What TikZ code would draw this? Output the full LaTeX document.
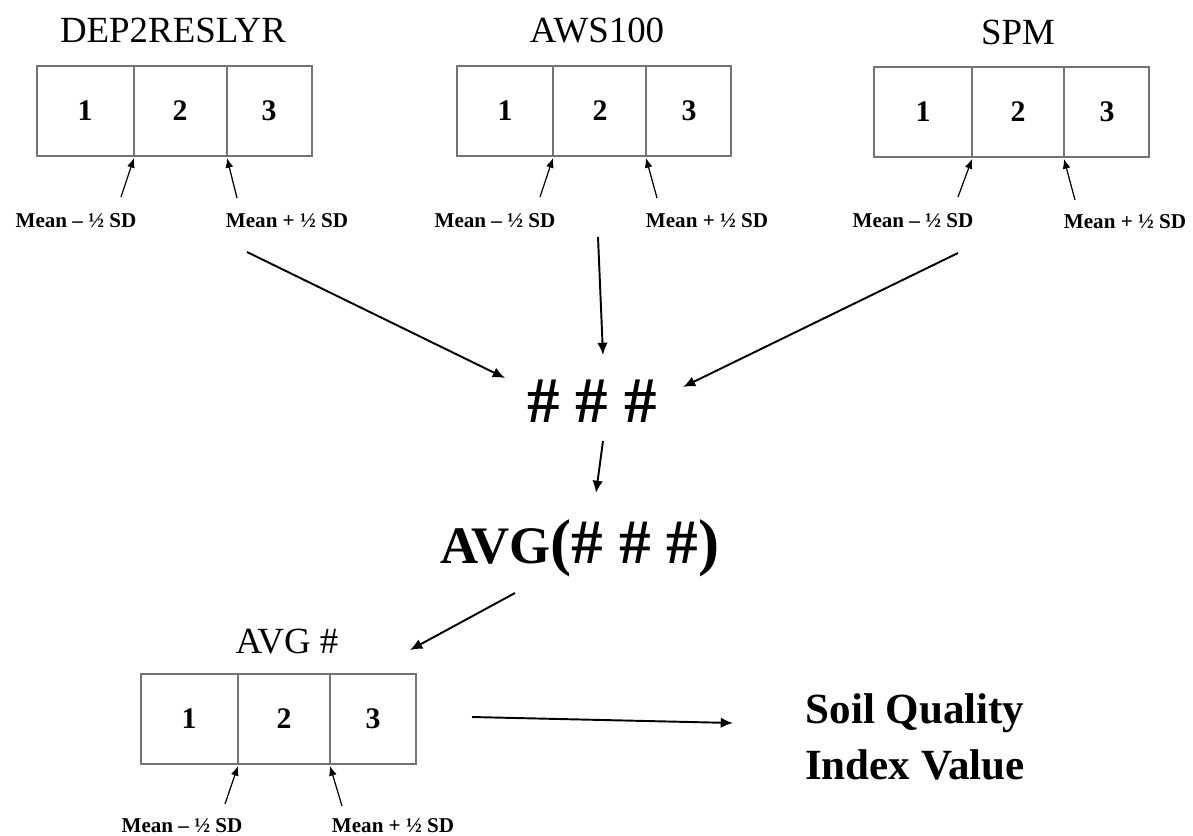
\documentclass[tikz,border=0pt]{standalone}
\usepackage{fontspec}
\setmainfont{Liberation Serif}
\usetikzlibrary{arrows.meta}

\tikzset{
	cellbox/.style={draw=black!55,line width=0.8pt},
	cellnum/.style={font=\fontsize{17}{20}\selectfont\bfseries,inner sep=0pt},
	vartitle/.style={font=\fontsize{21}{25}\selectfont,anchor=base,inner sep=0pt},
	sdlab/.style={font=\fontsize{12}{14}\selectfont\bfseries,anchor=base,inner sep=0pt},
	sdarrow/.style={line width=0.7pt,-{Latex[length=5.5pt,width=4.5pt]}},
	flow/.style={line width=1.1pt,-{Latex[length=7pt,width=6pt]}},
}

\begin{document}
\begin{tikzpicture}[x=0.02cm,y=-0.02cm]
	\useasboundingbox (0,0) rectangle (1193,835);

	% DEP2RESLYR
	\node[vartitle] (tdep) at (173,42) {DEP2RESLYR};
	\draw[cellbox] (37,66) rectangle (312,156) (134,66) -- (134,156) (227,66) -- (227,156);
		\node[cellnum] (dep1) at (85,111) {1};
		\node[cellnum] (dep2) at (180,111) {2};
		\node[cellnum] (dep3) at (269,111) {3};
	\coordinate (depa) at (134,158);
	\coordinate (depb) at (227,158);
	\coordinate (depat) at (121,197);
	\coordinate (depbt) at (237,198);
		\draw[sdarrow] (depat) -- (depa);
		\draw[sdarrow] (depbt) -- (depb);
	\node[sdlab] (deplo) at (76,227) {Mean -- ½ SD};
	\node[sdlab] (dephi) at (287,227) {Mean + ½ SD};

	% AWS100
	\node[vartitle] (taws) at (597,42) {AWS100};
	\draw[cellbox] (457,66) rectangle (731,156) (553,66) -- (553,156) (646,66) -- (646,156);
		\node[cellnum] (aws1) at (505,111) {1};
		\node[cellnum] (aws2) at (600,111) {2};
		\node[cellnum] (aws3) at (689,111) {3};
	\coordinate (awsa) at (553,158);
	\coordinate (awsb) at (646,158);
	\coordinate (awsat) at (540,197);
	\coordinate (awsbt) at (657,198);
		\draw[sdarrow] (awsat) -- (awsa);
		\draw[sdarrow] (awsbt) -- (awsb);
	\node[sdlab] (awslo) at (495,227) {Mean -- ½ SD};
	\node[sdlab] (awshi) at (707,227) {Mean + ½ SD};

	% SPM
	\node[vartitle] (tspm) at (1018,44) {SPM};
	\draw[cellbox] (874,67) rectangle (1149,157) (972,67) -- (972,157) (1064,67) -- (1064,157);
		\node[cellnum] (spm1) at (923,112) {1};
		\node[cellnum] (spm2) at (1018,112) {2};
		\node[cellnum] (spm3) at (1107,112) {3};
	\coordinate (spma) at (972,159);
	\coordinate (spmb) at (1064,159);
	\coordinate (spmat) at (958,197);
	\coordinate (spmbt) at (1075,200);
		\draw[sdarrow] (spmat) -- (spma);
		\draw[sdarrow] (spmbt) -- (spmb);
	\node[sdlab] (spmlo) at (913,227) {Mean -- ½ SD};
	\node[sdlab] (spmhi) at (1125,228) {Mean + ½ SD};

	% combining
	\node[font=\fontsize{37}{44}\selectfont\bfseries,anchor=base,inner sep=0pt] (hash) at (592,422) {\# \# \#};
	\node[font=\bfseries,anchor=base,inner sep=0pt] (avg) at (580,563)
		{{\fontsize{30}{36}\selectfont AVG}{\fontsize{36}{42}\selectfont(\# \# \#)}};
	\coordinate (fdep) at (247,252);
	\coordinate (fdept) at (505,378);
	\coordinate (faws) at (598,237);
	\coordinate (fawst) at (603,355);
	\coordinate (fspm) at (958,253);
	\coordinate (fspmt) at (683,387);
		\draw[flow] (fdep) -- (fdept);
		\draw[flow] (faws) -- (fawst);
		\draw[flow] (fspm) -- (fspmt);
	\coordinate (fhash) at (603,441);
	\coordinate (fhasht) at (596,493);
		\draw[flow] (fhash) -- (fhasht);
	\coordinate (favg) at (515,593);
	\coordinate (favgt) at (410,650);
		\draw[flow] (favg) -- (favgt);

	% AVG #
	\node[vartitle] (tavg) at (287,653) {AVG \#};
	\draw[cellbox] (141,674) rectangle (416,764) (238,674) -- (238,764) (330,674) -- (330,764);
		\node[cellnum] (avg1) at (189,719) {1};
		\node[cellnum] (avg2) at (284,719) {2};
		\node[cellnum] (avg3) at (373,719) {3};
	\coordinate (avga) at (238,766);
	\coordinate (avgb) at (330,766);
	\coordinate (avgat) at (225,804);
	\coordinate (avgbt) at (342,806);
		\draw[sdarrow] (avgat) -- (avga);
		\draw[sdarrow] (avgbt) -- (avgb);
	\node[sdlab] (avglo) at (182,832) {Mean -- ½ SD};
	\node[sdlab] (avghi) at (393,832) {Mean + ½ SD};

	% result
	\node[font=\fontsize{24.5}{31.5}\selectfont\bfseries,align=center,inner sep=0pt] (sqi) at (915,737) {Soil Quality\\Index Value};
	\coordinate (fbox) at (472,717);
	\coordinate (fboxt) at (733,723);
		\draw[flow] (fbox) -- (fboxt);
\end{tikzpicture}
\end{document}
